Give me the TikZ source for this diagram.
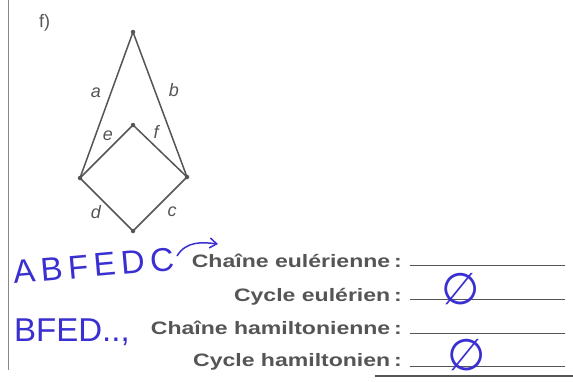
\documentclass[tikz,border=0pt]{standalone}
\usepackage{fontspec}
\setmainfont{Liberation Sans}
\newfontfamily\symfont{DejaVu Sans}
\usetikzlibrary{arrows.meta}
\definecolor{ink}{HTML}{555555}
\definecolor{pen}{HTML}{3A2FD0}
\newcommand{\wide}[1]{\scalebox{1.28}[1]{#1}}
\tikzset{
  edge/.style={draw=ink, line width=1.5pt},
  vdot/.style={circle, fill=ink, inner sep=0pt, minimum size=4.5pt},
  elabel/.style={text=ink, font=\fontsize{18}{20}\selectfont\itshape, inner sep=0pt},
  qtext/.style={text=ink, font=\fontsize{18}{20}\selectfont\bfseries, anchor=base east, inner sep=0pt},
  blank/.style={draw=ink, line width=1pt},
  hand/.style={text=pen, font=\fontsize{33}{35}\selectfont, inner sep=0pt},
  empty/.style={text=pen, font=\symfont\fontsize{44}{46}\selectfont, inner sep=0pt},
}
\begin{document}
\begin{tikzpicture}[x=1pt,y=-1pt]
\useasboundingbox (0,0) rectangle (573,381);
\fill[white] (0,0) rectangle (573,381);
% frame
\coordinate (ft) at (8,0);
\coordinate (fb) at (8,370);
\draw[ink!70, line width=1pt] (ft) -- (fb);
\coordinate (bl) at (375,376);
\coordinate (br) at (573,376);
\draw[ink, line width=1.2pt] (bl) -- (br);
\node[text=ink, font=\fontsize{18}{20}\selectfont, anchor=base west, inner sep=0pt] (lbl) at (39,27) {f)};
% graph
\node[vdot] (A) at (133,32) {};
\node[vdot] (E) at (133,125) {};
\node[vdot] (L) at (80,178) {};
\node[vdot] (R) at (187,177) {};
\node[vdot] (B) at (133,231) {};
\draw[edge] (A.center) -- (L.center);
\draw[edge] (A.center) -- (R.center);
\draw[edge] (L.center) -- (E.center);
\draw[edge] (E.center) -- (R.center);
\draw[edge] (L.center) -- (B.center);
\draw[edge] (B.center) -- (R.center);
\node[elabel] (la) at (96,93) {a};
\node[elabel] (lb) at (174,90) {b};
\node[elabel] (le) at (108,136) {e};
\node[elabel] (lf) at (156,132) {f};
\node[elabel] (ld) at (96,212) {d};
\node[elabel] (lc) at (172,212) {c};
% questions
\node[qtext] (q1) at (402,267) {\wide{Chaîne eulérienne\,:}};
\node[qtext] (q2) at (402,301) {\wide{Cycle eulérien\,:}};
\node[qtext] (q3) at (402,334) {\wide{Chaîne hamiltonienne\,:}};
\node[qtext] (q4) at (402,366) {\wide{Cycle hamiltonien\,:}};
\coordinate (l1a) at (410,265); \coordinate (l1b) at (565,265);
\coordinate (l2a) at (410,299); \coordinate (l2b) at (565,299);
\coordinate (l3a) at (410,333); \coordinate (l3b) at (565,333);
\coordinate (l4a) at (410,366); \coordinate (l4b) at (565,366);
\draw[blank] (l1a) -- (l1b);
\draw[blank] (l2a) -- (l2b);
\draw[blank] (l3a) -- (l3b);
\draw[blank] (l4a) -- (l4b);
% handwriting
\node[hand, rotate=5, anchor=base west] (h1) at (14,284) {A\,B\,F\,E\,D\,C};
\node[hand, anchor=base west] (h2) at (14,341) {BFED..,};
\coordinate (arS) at (177,256);
\coordinate (arE) at (218,244);
\draw[pen, line width=1.5pt, -{Straight Barb[length=7pt,width=10pt]}] (arS) .. controls (186,241) and (202,242) .. (arE);
\node[empty] (n1) at (461,289) {∅};
\node[empty] (n2) at (467,355) {∅};
\end{tikzpicture}
\end{document}
